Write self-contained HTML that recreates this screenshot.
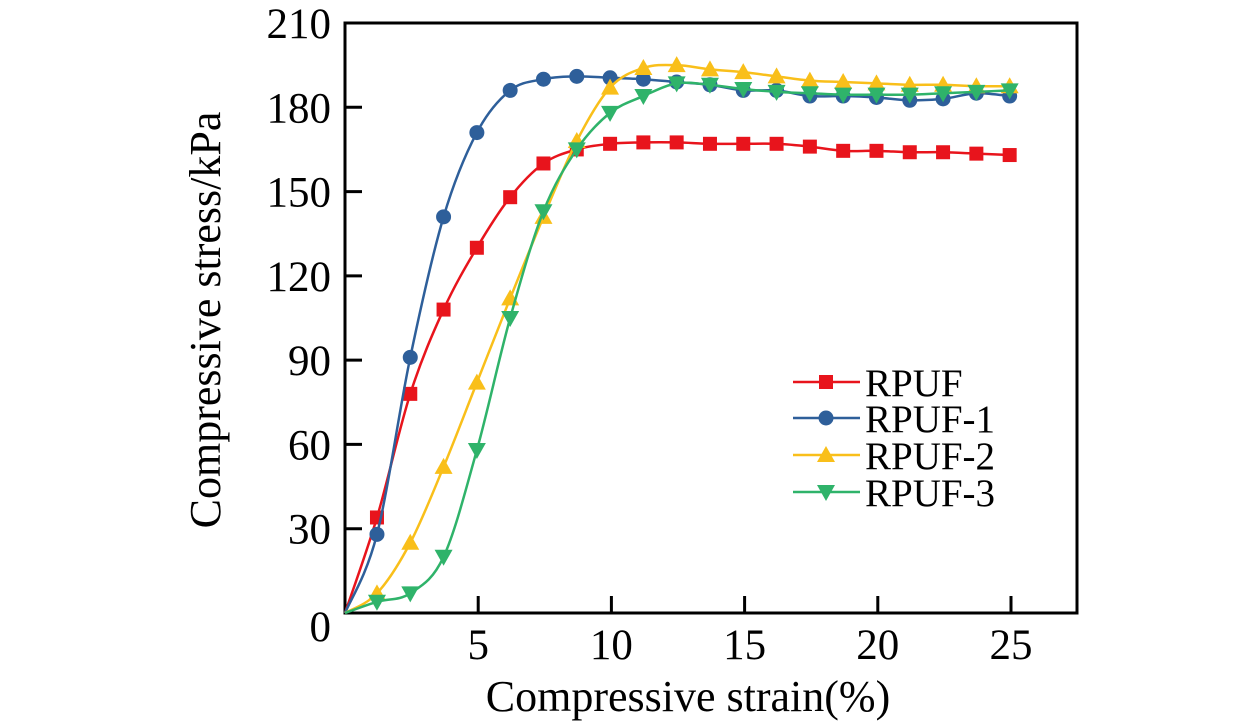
<!DOCTYPE html>
<html><head><meta charset="utf-8"><style>
html,body{margin:0;padding:0;background:#fff;width:1260px;height:724px;overflow:hidden}
text{font-family:"Liberation Serif",serif;fill:#000}
</style></head><body>
<svg id="chart" width="1260" height="724" viewBox="0 0 1260 724" xmlns="http://www.w3.org/2000/svg"></svg>
<script>
const xs = [1.2,2.45,3.7,4.95,6.2,7.45,8.7,9.95,11.2,12.45,13.7,14.95,16.2,17.45,18.7,19.95,21.2,22.45,23.7,24.95];
const rpuf  = [34,78,108,130,148,160,165,167,167.5,167.5,167,167,167,166,164.5,164.5,164,164,163.5,163];
const rpuf1 = [28,91,141,171,186,190,191,190.5,190,189,188,186,186,184,184,183.5,182.5,183,185,184];
const rpuf2 = [7,25,52,82,112,141,168,187,194,195,193.5,192.5,191,189.5,189,188.5,188,188,187.5,187.5];
const rpuf3 = [4,7,20,58,105,143,165,178,184,188.5,188,186.5,185.5,185,184.5,184.5,184.5,185,185.5,186];
const seriesNames = ["RPUF","RPUF-1","RPUF-2","RPUF-3"];
const xTicks = [5,10,15,20,25];
const yTicks = [0,30,60,90,120,150,180,210];

const svg = document.getElementById('chart');
const NS = 'http://www.w3.org/2000/svg';
const L=345,R=1077,T=23,B=613;
const X = v => L + v*(1011-345)/25;
const Y = v => B - v*(B-T)/210;
function mk(tag, attrs, parent){const e=document.createElementNS(NS,tag);for(const k in attrs)e.setAttribute(k,attrs[k]);(parent||svg).appendChild(e);return e;}

const frame = mk('rect',{x:L,y:T,width:R-L,height:B-T,fill:'none',stroke:'#000','stroke-width':3});


xTicks.forEach(t=>{
  const l=mk('line',{x1:X(t),x2:X(t),y1:B,y2:B-17,stroke:'#000','stroke-width':3});
  
  
  const tx=mk('text',{x:X(t),y:B+46,'text-anchor':'middle','font-size':43});
  tx.textContent=t;
  
  
});
yTicks.forEach(t=>{
  if(t>0&&t<210){
    const l=mk('line',{x1:L,x2:L+17,y1:Y(t),y2:Y(t),stroke:'#000','stroke-width':3});
    
    
  }
  const tx=mk('text',{x:L-14,y:Y(t)+(t===0?28:15),'text-anchor':'end','font-size':43});
  tx.textContent=t;
  
  
});
const xt=mk('text',{x:688,y:711,'text-anchor':'middle','font-size':44});
xt.textContent='Compressive strain(%)';


const yt=mk('text',{x:0,y:0,'text-anchor':'middle','font-size':44,transform:'translate(220,320) rotate(-90)'});
yt.textContent='Compressive stress/kPa';



function pathFor(vals){
  const p=[[X(0),Y(0)]].concat(xs.map((x,i)=>[X(x),Y(vals[i])]));
  let d='M'+p[0][0]+','+p[0][1];
  for(let i=0;i<p.length-1;i++){
    const p0=p[Math.max(0,i-1)],p1=p[i],p2=p[i+1],p3=p[Math.min(p.length-1,i+2)];
    const c1=[p1[0]+(p2[0]-p0[0])/6,p1[1]+(p2[1]-p0[1])/6];
    const c2=[p2[0]-(p3[0]-p1[0])/6,p2[1]-(p3[1]-p1[1])/6];
    d+=`C${c1[0]},${c1[1]} ${c2[0]},${c2[1]} ${p2[0]},${p2[1]}`;
  }
  return d;
}
function marker(g,type,cx,cy,color){
  let e;
  if(type==='sq') e=mk('rect',{x:cx-7,y:cy-7,width:14,height:14,fill:color},g);
  else if(type==='ci') e=mk('circle',{cx:cx,cy:cy,r:7.5,fill:color},g);
  else if(type==='up') e=mk('polygon',{points:`${cx},${cy-9} ${cx-9},${cy+7} ${cx+9},${cy+7}`,fill:color},g);
  else e=mk('polygon',{points:`${cx},${cy+9} ${cx-9},${cy-7} ${cx+9},${cy-7}`,fill:color},g);
  return e;
}
const all=[rpuf,rpuf1,rpuf2,rpuf3];
const colors=['#e8141c','#2e5f9a','#f9bf1a','#2fb36a'];
const mtypes=['sq','ci','up','dn'];
const legY=[382,418,455,492];
all.forEach((vals,s)=>{
  const g=mk('g',{});
  
  
  const pth=mk('path',{d:pathFor(vals),fill:'none',stroke:colors[s],'stroke-width':2.5},g);
  
  
  xs.forEach((x,i)=>{
    const m=marker(g,mtypes[s],X(x),Y(vals[i]),colors[s]);
    
    
  });
  const lg=mk('g',{});
  
  
  mk('line',{x1:793,x2:860,y1:legY[s],y2:legY[s],stroke:colors[s],'stroke-width':2.5},lg);
  marker(lg,mtypes[s],826,legY[s],colors[s]);
  const lt=mk('text',{x:865,y:legY[s]+14,'font-size':39},lg);
  lt.textContent=seriesNames[s];
});
</script>
</body></html>
